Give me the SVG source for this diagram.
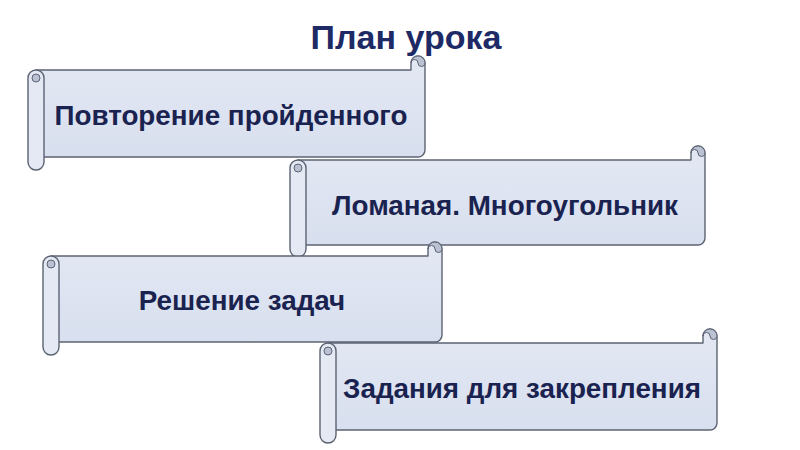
<svg xmlns="http://www.w3.org/2000/svg" width="800" height="450" viewBox="0 0 800 450">
<defs>
<linearGradient id="bodyG" x1="0" y1="0" x2="0" y2="1">
<stop offset="0" stop-color="#e3e8f3"/>
<stop offset="1" stop-color="#d8dfee"/>
</linearGradient>
<style>
.body{fill:url(#bodyG);stroke:#5c6373;stroke-width:1.4;stroke-linejoin:round}
.roll{fill:#e4e9f3;stroke:#5c6373;stroke-width:1.4}
.curl{fill:#b9c1d3;stroke:#5c6373;stroke-width:1}
.lbl{font-family:"Liberation Sans",Arial,sans-serif;font-weight:bold;font-size:27.8px;fill:#1a2250;text-anchor:middle;dominant-baseline:central}
.title{font-family:"Liberation Sans",Arial,sans-serif;font-weight:bold;font-size:34px;fill:#1d2a66;text-anchor:middle;dominant-baseline:central}
</style>
</defs>
<rect width="800" height="450" fill="#ffffff"/>
<text class="title" x="406" y="37">План урока</text>
<g id="node1">
<path class="body" d="M36,70 H411 V63 A7,7 0 0 1 425,63 V150 A7,7 0 0 1 418,157 H36 Z"/>
<path class="curl" d="M411,63 A7,7 0 0 1 425,63 A3.5,3.5 0 0 1 418,63 A3.5,3.5 0 0 0 411,63 Z"/>
<rect class="roll" x="28" y="70" width="16" height="100" rx="8"/>
<circle class="curl" cx="36" cy="78" r="4"/>
<text class="lbl" x="231" y="115">Повторение пройденного</text>
</g>
<g id="node2">
<path class="body" d="M298,160 H691 V153 A7,7 0 0 1 705,153 V238 A7,7 0 0 1 698,245 H298 Z"/>
<path class="curl" d="M691,153 A7,7 0 0 1 705,153 A3.5,3.5 0 0 1 698,153 A3.5,3.5 0 0 0 691,153 Z"/>
<rect class="roll" x="290" y="160" width="16" height="97" rx="8"/>
<circle class="curl" cx="298" cy="168" r="4"/>
<text class="lbl" x="505" y="205">Ломаная. Многоугольник</text>
</g>
<g id="node3">
<path class="body" d="M51,256 H428 V249 A7,7 0 0 1 442,249 V335 A7,7 0 0 1 435,342 H51 Z"/>
<path class="curl" d="M428,249 A7,7 0 0 1 442,249 A3.5,3.5 0 0 1 435,249 A3.5,3.5 0 0 0 428,249 Z"/>
<rect class="roll" x="43" y="256" width="16" height="99" rx="8"/>
<circle class="curl" cx="51" cy="264" r="4"/>
<text class="lbl" x="242" y="300">Решение задач</text>
</g>
<g id="node4">
<path class="body" d="M328,343 H703 V336 A7,7 0 0 1 717,336 V423 A7,7 0 0 1 710,430 H328 Z"/>
<path class="curl" d="M703,336 A7,7 0 0 1 717,336 A3.5,3.5 0 0 1 710,336 A3.5,3.5 0 0 0 703,336 Z"/>
<rect class="roll" x="320" y="343" width="16" height="100" rx="8"/>
<circle class="curl" cx="328" cy="351" r="4"/>
<text class="lbl" x="522" y="388">Задания для закрепления</text>
</g>
<g id="connectors"/>
</svg>
